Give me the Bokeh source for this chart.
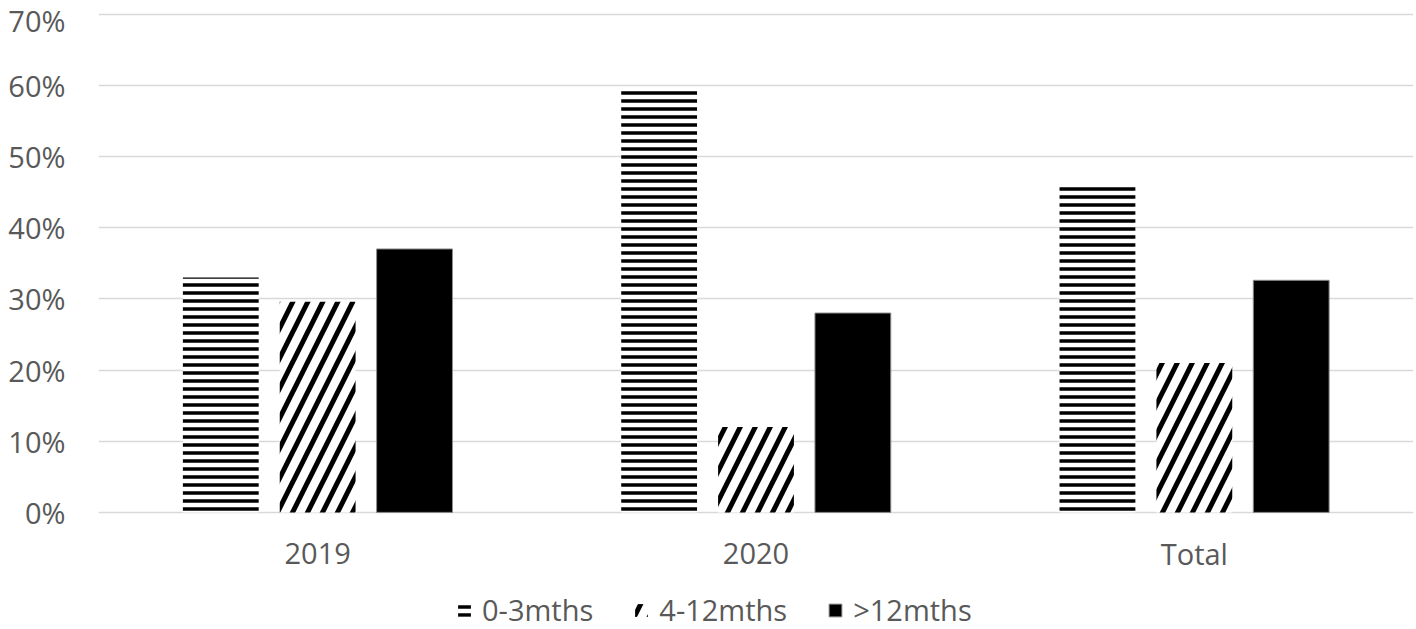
from bokeh.plotting import figure
from bokeh.models import (Legend, LegendItem, NumeralTickFormatter, FixedTicker,
                          Range1d, FactorRange, ColumnDataSource)
from bokeh.core.properties import value
from bokeh.transform import dodge
from bokeh.embed import file_html
from bokeh.resources import INLINE

categories = ["2019", "2020", "Total"]
series = ["0-3mths", "4-12mths", ">12mths"]
v_0_3 = [0.330, 0.594, 0.461]
v_4_12 = [0.296, 0.120, 0.210]
v_12p = [0.370, 0.280, 0.326]
y_ticks = [0.0, 0.1, 0.2, 0.3, 0.4, 0.5, 0.6, 0.7]

FONT = "Open Sans"
TXT = "#595959"
FS = "29px"

STYLES = [
    dict(fill_color="white", line_color=None, hatch_pattern="horizontal_line",
         hatch_color="black", hatch_scale=8, hatch_weight=3.5),
    dict(fill_color="white", line_color=None, hatch_pattern="right_diagonal_line",
         hatch_color="black", hatch_scale=30, hatch_weight=5),
    dict(fill_color="black", line_color="#8c8c8c", line_width=1),
]

src = ColumnDataSource(dict(cat=categories, a=v_0_3, b=v_4_12, c=v_12p,
                            base=[0.0] * len(categories)))

# frame spans the whole lower area so the legend and category labels sit inside it
PX = 498 / 0.7            # pixels per unit on the y scale
Y_MAX = 0.7 + 1.5 / PX    # keep the 70% gridline just inside the frame
Y_MIN = -117 / PX

p = figure(x_range=FactorRange(*categories, range_padding=0),
           y_range=Range1d(Y_MIN, Y_MAX), x_axis_location=None,
           width=1416, height=629, output_backend="svg", toolbar_location=None,
           min_border_left=98, min_border_right=3, min_border_top=12,
           min_border_bottom=0)

W = 0.173
OFF = 0.221
renderers = []
for col, off, st in zip(["a", "b", "c"], [-OFF, 0, OFF], STYLES):
    renderers.append(p.vbar(x=dodge("cat", off, range=p.x_range), top=col, width=W,
                            source=src, **st))

# category labels under the baseline
p.text(x="cat", y="base", text="cat", source=src, y_offset=41,
       text_align="center", text_baseline="middle",
       text_font=value(FONT), text_font_size=FS, text_color=TXT)

p.outline_line_color = None
p.xgrid.grid_line_color = None
p.ygrid.grid_line_color = "#d9d9d9"
p.ygrid.grid_line_width = 1.5

p.yaxis.ticker = FixedTicker(ticks=y_ticks)
p.yaxis.formatter = NumeralTickFormatter(format="0%")
p.yaxis.axis_line_color = None
p.yaxis.major_tick_line_color = None
p.yaxis.minor_tick_line_color = None
p.yaxis.major_label_text_font = FONT
p.yaxis.major_label_text_font_size = FS
p.yaxis.major_label_text_color = TXT
p.yaxis.major_label_standoff = 27

legend = Legend(items=[LegendItem(label=s, renderers=[r]) for s, r in zip(series, renderers)],
                orientation="horizontal", location=(358, 0),
                glyph_width=16, glyph_height=16, label_standoff=10, spacing=40,
                label_text_font=FONT, label_text_font_size=FS, label_text_color=TXT,
                border_line_color=None, background_fill_alpha=0, padding=0, margin=0)
p.add_layout(legend, "center")

open("out.html", "w").write(file_html(p, INLINE))
